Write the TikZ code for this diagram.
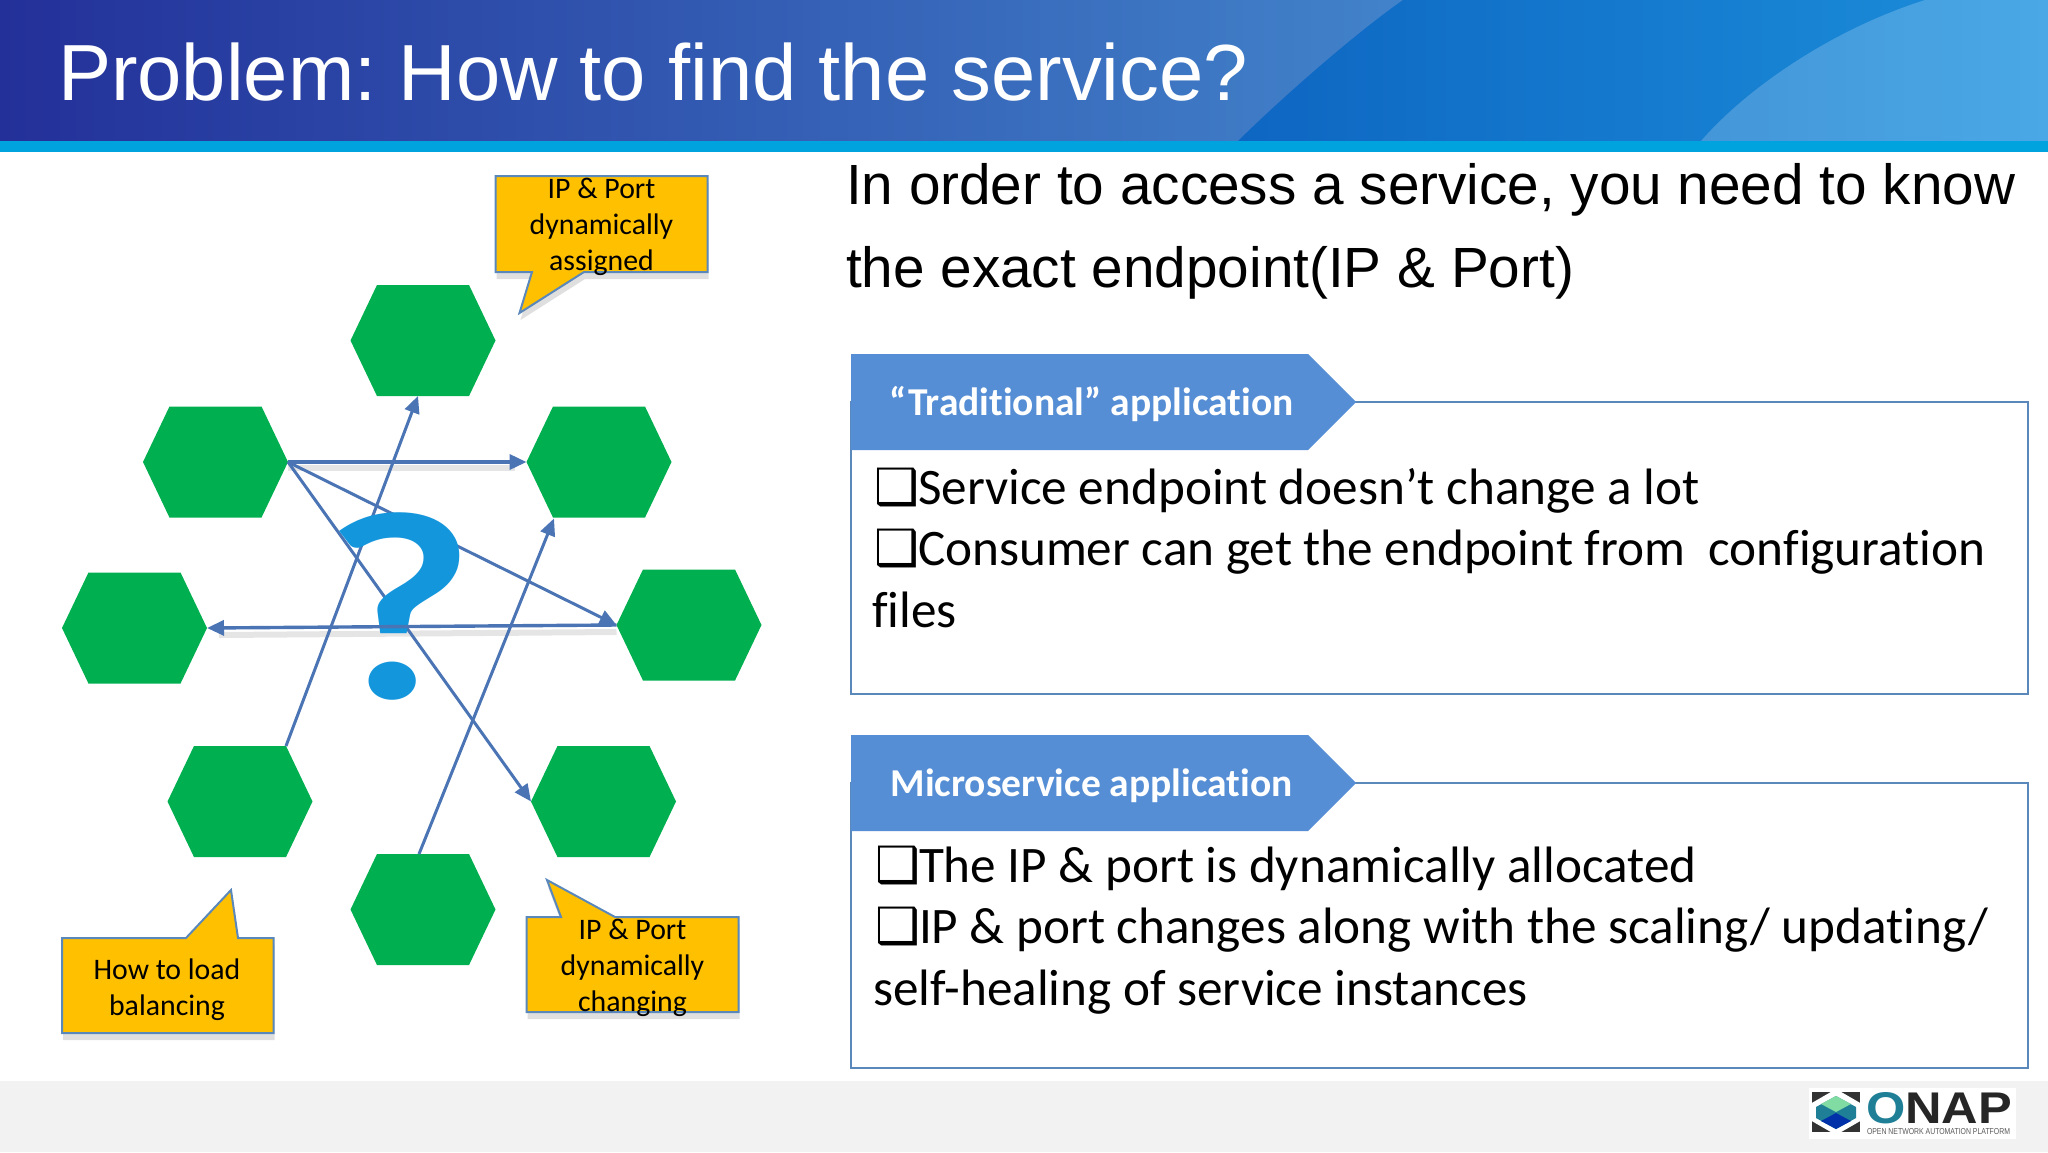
\documentclass[tikz,border=0pt]{standalone}
\usepackage{fontspec}
\usepackage{graphicx}
\setmainfont{Liberation Sans}
\newfontfamily\calibri[Ligatures=NoCommon]{Carlito}
\newfontfamily\dingfont{DejaVu Sans}
\newfontfamily\askfont{Lato}
\usetikzlibrary{arrows.meta,calc,positioning,shadows,shapes.symbols}
\definecolor{navy}{HTML}{233099}
\definecolor{midblue}{HTML}{3460BA}
\definecolor{paleblue}{HTML}{4284CB}
\definecolor{deepblue}{HTML}{0E66C2}
\definecolor{brightblue}{HTML}{1C8FDA}
\definecolor{skyleft}{HTML}{4496D8}
\definecolor{skyright}{HTML}{4AA8E6}
\definecolor{barblue}{HTML}{00A3DE}
\definecolor{linkblue}{HTML}{4A74B4}
\definecolor{panelblue}{HTML}{5A88BB}
\definecolor{tabblue}{HTML}{558ED5}
\definecolor{hexgreen}{HTML}{00B050}
\definecolor{noteyellow}{HTML}{FFC000}
\definecolor{askblue}{HTML}{1496DC}
\definecolor{logoteal}{HTML}{1F7F96}
\newcommand{\sqbul}{\makebox[44pt][l]{\dingfont\bfseries\fontsize{50}{50}\selectfont ^^^^2751}}

\begin{document}
\frenchspacing
\begin{tikzpicture}[x=1pt,y=-1pt,node distance=0pt,outer sep=0pt,inner sep=0pt]
    \tikzset{hexcell/.style={signal,signal to=east and west,signal pointer angle=129,minimum width=145pt,minimum height=111pt,fill=hexgreen}}
    \tikzset{link/.style={draw=linkblue,line width=3pt,-{Triangle[length=17pt,width=15pt]}}}
    \tikzset{linkshade/.style={draw=black,opacity=.1,line width=6pt}}
    \tikzset{note/.style={draw=panelblue,line width=2pt,fill=noteyellow}}
    \tikzset{noteshade/.style={drop shadow={shadow xshift=1pt,shadow yshift=-7pt,opacity=.25}}}
    \tikzset{notetext/.style={align=center,font=\calibri\fontsize{29.8}{36}\selectfont,text=black}}
    \tikzset{panel/.style={shape=rectangle,draw=panelblue,line width=2pt,minimum width=1177pt,anchor=north west}}
    \tikzset{tab/.style={signal,signal to=east,signal pointer angle=90,fill=tabblue,minimum width=505pt,minimum height=96pt,text height=31pt,text depth=4pt,anchor=west,text=white,font=\calibri\bfseries\fontsize{39.5}{44}\selectfont}}
    \tikzset{bodytext/.style={align=left,anchor=north west,font=\calibri\fontsize{51.2}{61.5}\selectfont,text=black}}

    \useasboundingbox (0,0) rectangle (2048,1152);
    \fill[white] (0,0) rectangle (2048,1152);

    \shade[left color=navy,middle color=midblue,right color=paleblue] (0,0) rectangle (1420,141);
    \shade[left color=deepblue,right color=brightblue] (1238,141) .. controls (1290,90) and (1360,30) .. (1403,0) -- (2048,0) -- (2048,141) -- cycle;
    \shade[left color=skyleft,right color=skyright] (1701,141) .. controls (1745,90) and (1830,30) .. (1925,0) -- (2048,0) -- (2048,141) -- cycle;
    \fill[barblue] (0,141) rectangle (2048,152);
    \fill[black!5] (0,1081) rectangle (2048,1152);
    \node [anchor=base west,text=white,font=\fontsize{79.6}{96}\selectfont] (title) at (58,100) {Problem: How to find the service?};

    \node [hexcell] (upper) at (423,340.5) {};
    \node [hexcell] (leftup) at (215.5,462) {};
    \node [hexcell,right=238.5pt of leftup] (rightup) {};
    \node [hexcell] (leftmid) at (134.5,628) {};
    \node [hexcell] (rightmid) at (689,625) {};
    \node [hexcell] (leftlow) at (240,801.5) {};
    \node [hexcell,right=218.5pt of leftlow] (rightlow) {};
    \node [hexcell] (lower) at (423,909.5) {};

    \draw[linkshade] ([yshift=-6pt]leftup.east) -- ([yshift=-6pt,xshift=-12pt]rightup.west);
    \draw[linkshade] ([yshift=-7pt]rightmid.west) -- ([yshift=-7pt,xshift=12pt]leftmid.east);
    \draw[link] (leftup.east) -- (rightmid.west);
    \draw[link] (leftup.east) -- (rightlow.west);
    \draw[link] ($(leftlow.north)+(46,0)$) -- ($(upper.south)+(-5,0)$);
    \draw[link] ($(lower.north)+(-4,0)$) -- ($(rightup.south)+(-45,1)$);
    \draw[link,line width=3.6pt] (leftup.east) -- (rightup.west);

    \node [text=askblue,font=\askfont\bfseries\fontsize{262}{262}\selectfont] (ask) at (400,606) {\scalebox{1.19}[.97]{?}};
    \draw[link,line width=3.4pt] (rightmid.west) -- (leftmid.east);

    \draw[note,noteshade] (495.5,176) -- (707.5,176) -- (707.5,272) -- (584,272) -- (519.5,313) -- (532,272) -- (495.5,272) -- cycle;
    \node [notetext] (assigned) at (601.5,227) {IP \& Port\\dynamically\\assigned};
    \draw[note,noteshade] (62,938) -- (186,938) -- (231,890) -- (238,938) -- (273.5,938) -- (273.5,1033) -- (62,1033) -- cycle;
    \node [notetext] (balance) at (167,990) {How to load\\balancing};
    \draw[note,noteshade] (526.5,917) -- (561,917) -- (547,880) -- (615,917) -- (738.5,917) -- (738.5,1012) -- (526.5,1012) -- cycle;
    \node [notetext] (changing) at (632.5,968) {IP \& Port\\dynamically\\changing};

    \node [align=left,anchor=north west,font=\fontsize{56.7}{83}\selectfont] (intro) at (846,163) {In order to access a service, you need to know\\the exact endpoint(IP \& Port)};

    \node [panel,minimum height=292pt] (tradbox) at (851,402) {};
    \node [tab] (tradtab) at (851,402) {\hspace*{24pt}“Traditional” application};
    \node [bodytext] (tradtext) at (872,468) {\hspace*{2pt}\sqbul Service endpoint doesn’t change a lot\\\hspace*{2pt}\sqbul Consumer can get the endpoint from\ \ configuration\\files};

    \node [panel,minimum height=285pt] (microbox) at (851,783) {};
    \node [tab] (microtab) at (851,783) {\hspace*{24pt}Microservice application};
    \node [bodytext] (microtext) at (873,846) {\hspace*{2pt}\sqbul The IP \& port is dynamically allocated\\\hspace*{2pt}\sqbul IP \& port changes along with the scaling/ updating/\\self-healing of service instances};

    \fill[white] (1809,1088) rectangle (2016,1139);
    \fill[black!80] (1812,1092) rectangle (1860,1132);
    \fill[white] (1836,1089) -- (1862,1104) -- (1862,1120) -- (1836,1135) -- (1810,1120) -- (1810,1104) -- cycle;
    \fill[logoteal] (1836,1096) -- (1856,1107) -- (1856,1118) -- (1836,1129) -- (1816,1118) -- (1816,1107) -- cycle;
    \fill[teal!55!green!50!white] (1836,1096) -- (1851,1104) -- (1836,1112) -- (1821,1104) -- cycle;
    \fill[blue!55!teal!85!black] (1836,1113) -- (1851,1121) -- (1836,1129) -- (1821,1121) -- cycle;
    \node [anchor=west] (onap) at (1866,1108.5) {\resizebox{146pt}{31pt}{\bfseries\textcolor{logoteal}{O}\textcolor{black!85}{NAP}}};
    \node [anchor=west,text=black!65] (platform) at (1867,1132) {\resizebox{143pt}{6pt}{OPEN NETWORK AUTOMATION PLATFORM}};
\end{tikzpicture}
\end{document}
